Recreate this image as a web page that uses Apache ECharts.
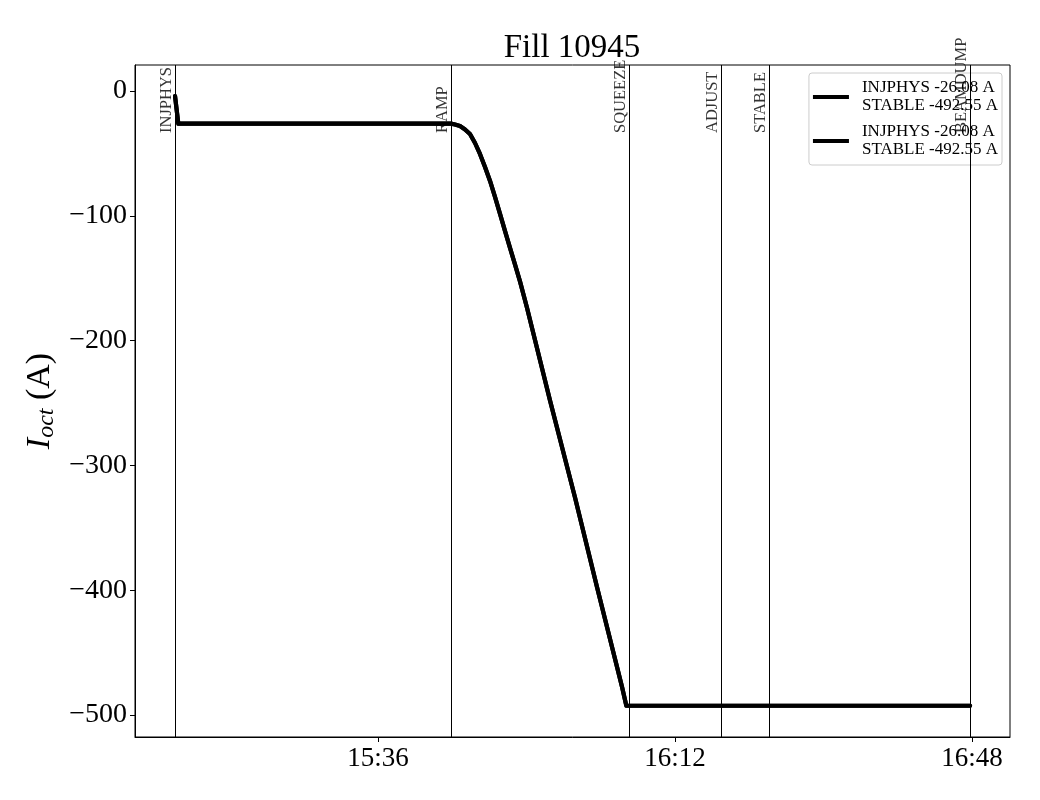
<!DOCTYPE html>
<html><head><meta charset="utf-8">
<script src="https://cdn.jsdelivr.net/npm/echarts@6/dist/echarts.min.js"></script>
<style>html,body{margin:0;padding:0;background:#fff}#c{width:1040px;height:800px}</style>
</head><body><div id="c"></div>
<script>
// time in minutes since midnight, current in A
const timeMin = [911.40, 911.80, 944.85, 945.33, 945.94, 946.55, 947.15, 947.76, 948.36, 948.97, 949.58, 950.18, 950.79, 951.39, 952.00, 952.61, 953.21, 954.06, 956.85, 959.88, 962.55, 965.58, 966.10, 1007.76];
const currentA = [-4.0, -26.08, -26.08, -26.8, -28.0, -30.8, -34.4, -41.6, -50.4, -60.8, -72.0, -84.8, -98.4, -112.0, -125.6, -139.0, -152.5, -173.6, -248.0, -325.6, -397.6, -477.6, -492.55, -492.55];
const phaseNames = ['INJPHYS', 'RAMP', 'SQUEEZE', 'ADJUST', 'STABLE', 'BEAMDUMP'];
const phaseTimes = [911.40, 944.85, 966.42, 977.58, 983.39, 1007.76];
const xTickMinutes = [936, 972, 1008];
const yTickValues = [-500, -400, -300, -200, -100, 0];
const legendNames = ['INJPHYS -26.08 A\nSTABLE -492.55 A', 'INJPHYS -26.08 A\nSTABLE -492.55 A\u200b'];
const titleText = 'Fill 10945';

const FONT = 'Liberation Serif';
const LABEL_Y = -33.6;

function fmtTime(m) {
  const h = Math.floor(m / 60), mm = Math.round(m - h * 60);
  return h + ':' + (mm < 10 ? '0' : '') + mm;
}
function fmtNum(v) { return v < 0 ? '\u2212' + Math.abs(v) : String(v); }

const lineData = timeMin.map((t, i) => [t, currentA[i]]);

const chart = echarts.init(document.getElementById('c'), null, {renderer: 'canvas'});
const option = {
  animation: false,
  backgroundColor: '#fff',
  title: {
    text: titleText, left: 567, textAlign: 'center', top: 27,
    textStyle: {fontFamily: FONT, fontSize: 33, fontWeight: 'normal', color: '#000'}
  },
  grid: {left: 135, right: 30, top: 65, bottom: 63, show: true, borderColor: '#000', borderWidth: 1, backgroundColor: 'transparent'},
  legend: {
    orient: 'vertical', right: 38, top: 73,
    data: legendNames,
    icon: 'rect',
    padding: [6, 4, 6, 4], itemGap: 8, itemWidth: 36, itemHeight: 4,
    backgroundColor: 'rgba(255,255,255,0.8)', borderColor: '#ccc', borderWidth: 1, borderRadius: 3,
    textStyle: {fontFamily: FONT, fontSize: 17, lineHeight: 18, color: '#000', padding: [0, 0, 0, 8]}
  },
  xAxis: {
    type: 'value', min: 906.55, max: 1012.6,
    splitLine: {show: false},
    axisLine: {show: true, onZero: false, lineStyle: {color: '#000', width: 1}},
    axisTick: {show: true, length: 5, customValues: xTickMinutes, lineStyle: {color: '#000'}},
    axisLabel: {customValues: xTickMinutes, formatter: fmtTime, fontFamily: FONT, fontSize: 27, color: '#000', margin: 8}
  },
  yAxis: {
    type: 'value', min: -517.6, max: 20.9,
    splitLine: {show: false},
    axisLine: {show: true, onZero: false, lineStyle: {color: '#000', width: 1}},
    axisTick: {show: true, length: 5, customValues: yTickValues, lineStyle: {color: '#000'}},
    axisLabel: {customValues: yTickValues, formatter: fmtNum, fontFamily: FONT, fontSize: 28, color: '#000', margin: 8},
    name: '{i|I}{s|oct}{n| (A)}', nameLocation: 'middle', nameRotate: 90, nameGap: 75,
    nameTextStyle: {
      rich: {
        i: {fontFamily: FONT, fontSize: 34, fontStyle: 'italic', color: '#000'},
        s: {fontFamily: FONT, fontSize: 24, fontStyle: 'italic', color: '#000', verticalAlign: 'bottom', padding: [12, 0, 0, 0]},
        n: {fontFamily: FONT, fontSize: 34, color: '#000'}
      }
    }
  },
  series: [
    {
      type: 'line', name: 'phases', data: [], z: 1, silent: true,
      markLine: {
        silent: true, symbol: ['none', 'none'], animation: false,
        lineStyle: {color: '#000', width: 1, type: 'solid'},
        label: {show: false},
        data: phaseTimes.map(t => ({xAxis: t}))
      }
    },
    {
      type: 'scatter', name: 'phaseLabels', symbolSize: 0, silent: true, z: 5,
      data: phaseTimes.map((t, i) => ({value: [t, LABEL_Y], name: phaseNames[i]})),
      label: {
        show: true, formatter: '{b}', position: 'inside', rotate: 90,
        align: 'left', verticalAlign: 'bottom', distance: 0,
        fontFamily: FONT, fontSize: 16.5, color: '#000'
      }
    },
    {
      type: 'line', name: legendNames[0], data: lineData, z: 3,
      showSymbol: false, symbol: 'none', color: '#000',
      lineStyle: {color: '#000', width: 4.2, join: 'round', cap: 'round'}
    },
    {
      type: 'line', name: legendNames[1], data: lineData, z: 3,
      showSymbol: false, symbol: 'none', color: '#000',
      lineStyle: {color: '#000', width: 4.2, join: 'round', cap: 'round'}
    }
  ]
};
chart.setOption(option);
</script>
</body></html>
